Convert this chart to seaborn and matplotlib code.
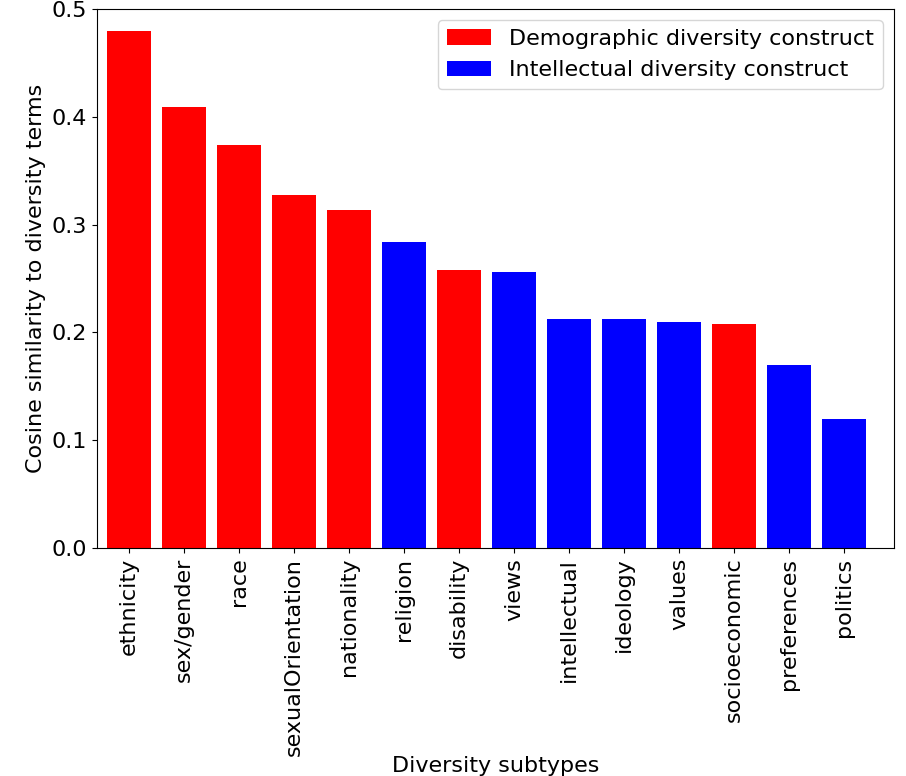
import seaborn as sns
from matplotlib import pyplot as plt
import pandas as pd

subtypes = ['ethnicity', 'sex/gender', 'race', 'sexualOrientation', 'nationality',
            'religion', 'disability', 'views', 'intellectual', 'ideology',
            'values', 'socioeconomic', 'preferences', 'politics']
similarity = [0.480, 0.409, 0.374, 0.327, 0.314, 0.284, 0.258, 0.256,
              0.212, 0.212, 0.210, 0.208, 0.170, 0.120]
constructs = ['Demographic diversity construct'] * 5 + ['Intellectual diversity construct'] + \
             ['Demographic diversity construct'] + ['Intellectual diversity construct'] * 4 + \
             ['Demographic diversity construct'] + ['Intellectual diversity construct'] * 2

df = pd.DataFrame({'subtype': subtypes, 'sim': similarity, 'construct': constructs})

fig = plt.figure(figsize=(9.06, 7.76), dpi=100)
ax = fig.add_axes([97/906, 228/776, 797/906, 539/776])
sns.barplot(data=df, x='subtype', y='sim', hue='construct', order=subtypes,
            hue_order=['Demographic diversity construct', 'Intellectual diversity construct'],
            palette={'Demographic diversity construct': 'red',
                     'Intellectual diversity construct': 'blue'},
            saturation=1, width=0.8, dodge=False, ax=ax)
ax.set_ylim(0, 0.5)
ax.set_xlim(-0.58, 13.91)
ax.set_xlabel('Diversity subtypes', fontsize=16, labelpad=0)
ax.set_ylabel('Cosine similarity to diversity terms', fontsize=16)
ax.tick_params(axis='x', labelrotation=90, labelsize=16)
ax.tick_params(axis='y', labelsize=16)
ax.legend(fontsize=16, loc='upper right')
fig.savefig('out.png', dpi=100)
